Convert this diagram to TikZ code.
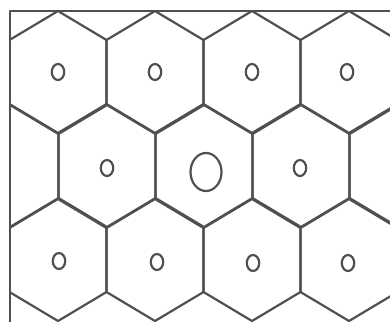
\documentclass[tikz,border=0pt]{standalone}
\definecolor{linegray}{RGB}{80,80,80}
\begin{document}
\begin{tikzpicture}[x=1pt,y=-1pt,
  hexline/.style={draw=linegray, line width=2.2pt, line join=round},
  dotline/.style={draw=linegray, line width=2.2pt}]
\useasboundingbox (0,0) rectangle (390,322);
\fill[white] (0,0) rectangle (390,322);
\begin{scope}
  \clip (10,11) rectangle (390,322);
  \foreach \cy in {72,260}{
    \foreach \cx in {58,155,252,349,446}{
      \draw[hexline] (\cx,\cy-61) -- (\cx+48.5,\cy-32) -- (\cx+48.5,\cy+32) -- (\cx,\cy+61) -- (\cx-48.5,\cy+32) -- (\cx-48.5,\cy-32) -- cycle;
    }
  }
  \foreach \cx in {10,107,204,301,398}{
    \draw[hexline] (\cx,166-61) -- (\cx+48.5,166-32) -- (\cx+48.5,166+32) -- (\cx,166+61) -- (\cx-48.5,166+32) -- (\cx-48.5,166-32) -- cycle;
  }
\end{scope}
\draw[hexline] (390,11) -- (10,11) -- (10,322);
\foreach \px/\py in {58/72,155/72,252/72,347/72,107/168,300/168,59/261,157/262,253/263,348/263}{
  \draw[dotline] (\px,\py) ellipse [x radius=6.2, y radius=8];
}
\draw[dotline] (206,172) ellipse [x radius=15.5, y radius=19];
\end{tikzpicture}
\end{document}
